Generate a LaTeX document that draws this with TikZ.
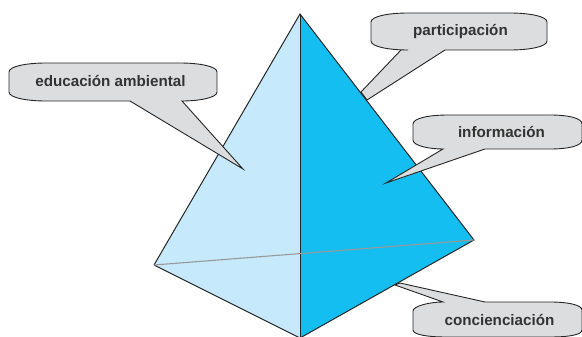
\documentclass[tikz,border=0pt]{standalone}
\usepackage{fontspec}
\setmainfont{Liberation Sans}
\definecolor{lightface}{HTML}{C6E9FB}
\definecolor{darkface}{HTML}{14BEF0}
\definecolor{bubblefill}{HTML}{DCDDDE}
\definecolor{labelink}{HTML}{333333}
\tikzset{
  bubble/.style={draw=black!85,fill=bubblefill,line width=0.9pt,line join=miter},
  bubbletext/.style={text=labelink,font=\fontsize{15.2}{17}\selectfont\bfseries,inner sep=0pt},
  edge/.style={draw=black!85,line width=1pt}
}
\begin{document}
\begin{tikzpicture}[x=1pt,y=-1pt]
 \useasboundingbox (0,0) rectangle (582,337);
 \coordinate (apex) at (300,14);
 \coordinate (west) at (154,265);
 \coordinate (east) at (474,240);
 \coordinate (south) at (300,338);
 % bubbles behind the solid
 \draw[bubble] (371,22) .. controls (371,16) and (390,13) .. (408,13) -- (510,13)
   .. controls (528,13) and (547,16) .. (547,22) -- (547,41)
   .. controls (547,47) and (528,50) .. (510,50) -- (445,50) -- (367,100) -- (361,92) -- (401,50) -- (408,50)
   .. controls (390,50) and (371,47) .. (371,41) -- cycle;
 \draw[bubble] (413,311) .. controls (413,306) and (430,302) .. (443,302) -- (395,285) -- (400,283) -- (485,302) -- (550,302)
   .. controls (568,302) and (582,305) .. (582,310) -- (582,330)
   .. controls (582,335) and (568,337) .. (550,337) -- (445,337)
   .. controls (430,337) and (413,335) .. (413,330) -- cycle;
 % the solid
 \fill[lightface] (apex) -- (west) -- (south) -- cycle;
 \fill[darkface] (apex) -- (east) -- (south) -- cycle;
 \draw[edge] (west) -- (apex) -- (east) -- (south) -- (west);
 \draw[edge] (apex) -- (south);
 \draw[gray!80,line width=1.1pt] (west) -- (east);
 % bubbles in front
 \draw[bubble] (9,72) .. controls (9,66) and (28,63) .. (46,63) -- (180,63)
   .. controls (198,63) and (217,66) .. (217,72) -- (217,92)
   .. controls (217,98) and (198,101) .. (182,101) -- (243,169) -- (130,101) -- (46,101)
   .. controls (28,101) and (9,98) .. (9,92) -- cycle;
 \draw[bubble] (413,124) .. controls (413,118) and (430,115) .. (448,115) -- (550,115)
   .. controls (568,115) and (582,118) .. (582,124) -- (582,140)
   .. controls (582,146) and (568,149) .. (550,149) -- (485,149) -- (386,183) -- (443,149)
   .. controls (430,149) and (413,146) .. (413,140) -- cycle;
 % labels
 \node[bubbletext] (participacion) at (460.5,32) {participación};
 \node[bubbletext] (informacion) at (501.5,132) {información};
 \node[bubbletext] (concienciacion) at (499.5,320) {concienciación};
 \node[bubbletext] (educacion) at (110.5,81) {educación ambiental};
\end{tikzpicture}
\end{document}
